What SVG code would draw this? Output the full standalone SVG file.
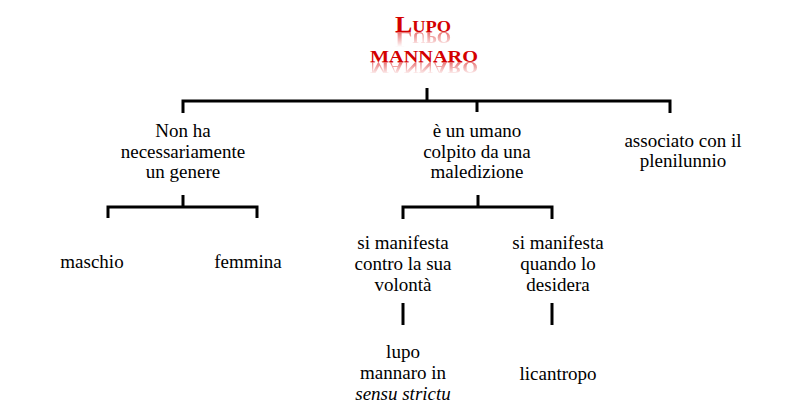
<svg xmlns="http://www.w3.org/2000/svg" xmlns:xlink="http://www.w3.org/1999/xlink" width="800" height="416" viewBox="0 0 800 416">
  <style>
    .t { font-family: "Liberation Serif", "Times New Roman", serif; font-size: 19px; fill: #000; text-anchor: middle; }
    .it { font-style: italic; }
    .ttl { font-family: "Liberation Serif", "Times New Roman", serif; font-size: 24px; font-weight: bold; font-variant: small-caps; text-anchor: middle; }
    .conn { fill: none; stroke: #000; stroke-width: 3; stroke-linejoin: miter; }
  </style>
  <defs>
    <linearGradient id="fade1" gradientUnits="userSpaceOnUse" x1="0" y1="32" x2="0" y2="47">
      <stop offset="0" stop-color="#fff" stop-opacity="0.55"/>
      <stop offset="1" stop-color="#fff" stop-opacity="0"/>
    </linearGradient>
    <linearGradient id="fade2" gradientUnits="userSpaceOnUse" x1="0" y1="62" x2="0" y2="75">
      <stop offset="0" stop-color="#fff" stop-opacity="0.55"/>
      <stop offset="1" stop-color="#fff" stop-opacity="0"/>
    </linearGradient>
    <mask id="m1" maskUnits="userSpaceOnUse" x="360" y="30" width="140" height="20">
      <rect x="360" y="30" width="140" height="20" fill="url(#fade1)"/>
    </mask>
    <mask id="m2" maskUnits="userSpaceOnUse" x="340" y="60" width="170" height="20">
      <rect x="340" y="60" width="170" height="20" fill="url(#fade2)"/>
    </mask>
  </defs>
  <rect x="0" y="0" width="800" height="416" fill="#fff"/>

  <g id="title">
    <text id="title1" class="ttl" x="423" y="32" textLength="56" lengthAdjust="spacingAndGlyphs" fill="#d40000">Lupo</text>
    <text id="title2" class="ttl" x="424" y="62" textLength="108" lengthAdjust="spacingAndGlyphs" fill="#d40000">mannaro</text>
    <g mask="url(#m1)">
      <use xlink:href="#title1" href="#title1" transform="translate(0,64) scale(1,-1)"/>
    </g>
    <g mask="url(#m2)">
      <use xlink:href="#title2" href="#title2" transform="translate(0,124) scale(1,-1)"/>
    </g>
  </g>

  <g id="connectors">
    <path class="conn" d="M427,88 V101"/>
    <path class="conn" d="M183,113 V101 H670 V113"/>
    <path class="conn" d="M477,101 V112"/>
    <path class="conn" d="M183,195 V207"/>
    <path class="conn" d="M108,218 V207 H257 V218"/>
    <path class="conn" d="M478,195 V207"/>
    <path class="conn" d="M403,219 V207 H552 V219"/>
    <path class="conn" d="M403,303 V325"/>
    <path class="conn" d="M552,303 V325"/>
  </g>

  <g id="node-genere">
    <text class="t" x="183" y="137">Non ha</text>
    <text class="t" x="183" y="158">necessariamente</text>
    <text class="t" x="183" y="178">un genere</text>
  </g>
  <g id="node-umano">
    <text class="t" x="477" y="137">è un umano</text>
    <text class="t" x="477" y="158">colpito da una</text>
    <text class="t" x="477" y="178">maledizione</text>
  </g>
  <g id="node-plenilunio">
    <text class="t" x="683" y="147">associato con il</text>
    <text class="t" x="683" y="167">plenilunnio</text>
  </g>
  <g id="node-maschio">
    <text class="t" x="92" y="268">maschio</text>
  </g>
  <g id="node-femmina">
    <text class="t" x="248" y="268">femmina</text>
  </g>
  <g id="node-contro">
    <text class="t" x="403" y="249">si manifesta</text>
    <text class="t" x="403" y="270">contro la sua</text>
    <text class="t" x="403" y="291">volontà</text>
  </g>
  <g id="node-desidera">
    <text class="t" x="558" y="249">si manifesta</text>
    <text class="t" x="558" y="270">quando lo</text>
    <text class="t" x="558" y="291">desidera</text>
  </g>
  <g id="node-lupo">
    <text class="t" x="403" y="358">lupo</text>
    <text class="t" x="403" y="379">mannaro in</text>
    <text class="t it" x="403" y="400">sensu strictu</text>
  </g>
  <g id="node-licantropo">
    <text class="t" x="558" y="380">licantropo</text>
  </g>
</svg>
